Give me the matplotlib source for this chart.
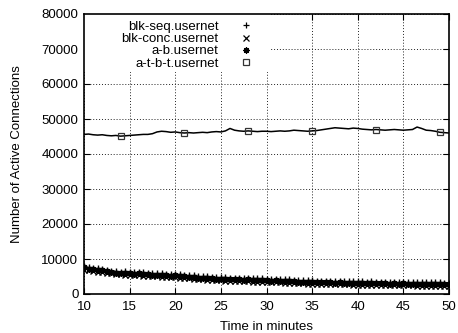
import numpy as np
import matplotlib
matplotlib.use("Agg")
import matplotlib.pyplot as plt
from matplotlib.patches import Rectangle
from matplotlib.lines import Line2D

plt.rcParams['font.family'] = ['Liberation Sans', 'DejaVu Sans']

# time axis (minutes), one sample every half minute
minutes = np.arange(10.0, 50.5, 0.5)

blk_seq = [7900, 7700, 7400, 7300, 7100, 7000, 6700, 6600, 6400, 6500,
           6300, 6350, 6200, 6150, 6100, 6000, 5950, 5900, 5800, 5750,
           5700, 5600, 5450, 5400, 5300, 5200, 5100, 5050, 4950, 4900,
           4800, 4800, 4700, 4650, 4600, 4650, 4550, 4500, 4450, 4500,
           4400, 4350, 4300, 4250, 4200, 4150, 4100, 4050, 3950, 3950,
           3900, 3850, 3850, 3800, 3750, 3750, 3700, 3700, 3650, 3650,
           3600, 3650, 3550, 3600, 3550, 3500, 3550, 3450, 3500, 3450,
           3400, 3450, 3400, 3350, 3400, 3300, 3350, 3300, 3300, 3250,
           3250]

blk_conc = [7000, 6800, 6600, 6400, 6300, 6100, 5900, 5700, 5600, 5500,
            5500, 5400, 5350, 5250, 5200, 5150, 5100, 5000, 4950, 4850,
            4800, 4700, 4600, 4450, 4350, 4250, 4150, 4100, 4000, 3950,
            3900, 3850, 3800, 3750, 3700, 3650, 3600, 3550, 3550, 3500,
            3450, 3400, 3350, 3300, 3250, 3200, 3150, 3100, 3050, 3000,
            2950, 2950, 2900, 2850, 2850, 2800, 2800, 2750, 2750, 2700,
            2700, 2650, 2650, 2600, 2600, 2600, 2550, 2550, 2500, 2500,
            2500, 2450, 2450, 2400, 2400, 2400, 2350, 2350, 2300, 2300,
            2300]

a_b = [7600, 7150, 7050, 6800, 6750, 6500, 6350, 6050, 6100, 5950,
       5950, 5750, 5900, 5650, 5700, 5550, 5550, 5400, 5450, 5250,
       5300, 5050, 5050, 4850, 4850, 4600, 4650, 4450, 4500, 4350,
       4400, 4250, 4300, 4150, 4200, 4050, 4150, 4000, 4050, 3950,
       4000, 3850, 3900, 3750, 3750, 3600, 3650, 3500, 3550, 3400,
       3450, 3350, 3400, 3300, 3350, 3250, 3300, 3200, 3250, 3150,
       3250, 3100, 3200, 3100, 3150, 3050, 3150, 3000, 3100, 2950,
       3050, 2950, 3000, 2900, 2950, 2850, 2950, 2800, 2900, 2750,
       2850]

a_t_b_t = [45600, 45700, 45500, 45400, 45500, 45300, 45200, 45300, 45100, 45200,
           45300, 45400, 45500, 45600, 45600, 45800, 46300, 46500, 46400, 46200,
           46300, 46100, 46000, 46100, 46000, 46100, 46200, 46100, 46300, 46400,
           46300, 46600, 47300, 46800, 46600, 46500, 46600, 46500, 46400, 46500,
           46500, 46400, 46500, 46600, 46500, 46600, 46800, 46700, 46600, 46500,
           46600, 46700, 46900, 47100, 47300, 47500, 47400, 47300, 47200, 47400,
           47300, 47100, 47000, 46900, 47000, 46900, 46800, 46900, 47000, 46900,
           46800, 46900, 47000, 47700, 47300, 46800, 46700, 46500, 46200, 46100,
           46000]

labels = ["blk-seq.usernet", "blk-conc.usernet", "a-b.usernet", "a-t-b-t.usernet"]
x_ticks = [10, 15, 20, 25, 30, 35, 40, 45, 50]
y_ticks = [0, 10000, 20000, 30000, 40000, 50000, 60000, 70000, 80000]

fig = plt.figure(figsize=(4.58, 3.33), dpi=100)
ax = fig.add_axes([84/458, 39/333, 365/458, 280/333])

fs = 9.5
ms = 4.4
ax.plot(minutes, blk_seq, linestyle='none', marker='+', color='black', ms=ms, mew=1.0, zorder=3)
ax.plot(minutes, blk_conc, linestyle='none', marker='x', color='black', ms=ms*0.85, mew=1.0, zorder=3)
ax.plot(minutes, a_b, linestyle='none', marker=(8, 2, 0), color='black', ms=ms, mew=1.0, zorder=3)
mark_idx = [int(round((m - 10) / 0.5)) for m in [14, 21, 28, 35, 42, 49]]
ax.plot(minutes, a_t_b_t, linestyle='-', lw=1.1, color='black', marker='s', ms=4.2,
        mfc='none', mec='#333333', mew=0.9, markevery=mark_idx, zorder=3)

ax.set_xlim(10, 50)
ax.set_ylim(0, 80000)
ax.set_xticks(x_ticks)
ax.set_yticks(y_ticks)
ax.tick_params(direction='in', length=4.5, width=0.8, top=True, right=True,
               labelsize=fs, pad=4, colors='black')
ax.tick_params(axis='x', pad=5)
for s in ax.spines.values():
    s.set_linewidth(1.2)

ax.set_axisbelow(True)
ax.grid(True, color='#222222', linestyle=(0, (1, 2)), linewidth=0.7)

# white key area hiding the grid
ax.add_patch(Rectangle((0, 0.793), 0.5096, 0.207, transform=ax.transAxes,
                       facecolor='white', edgecolor='none', zorder=1))

ax.set_xlabel("Time in minutes", fontsize=fs, labelpad=6)
ax.set_ylabel("Number of Active Connections", fontsize=fs, labelpad=13)

handles = [
    Line2D([], [], ls='none', marker='+', color='black', ms=ms, mew=0.9),
    Line2D([], [], ls='none', marker='x', color='black', ms=ms*0.85, mew=0.9),
    Line2D([], [], ls='none', marker=(8, 2, 0), color='black', ms=ms, mew=0.9),
    Line2D([], [], ls='none', marker='s', ms=4.2, mfc='none', mec='#333333', mew=0.9),
]
leg = ax.legend(handles, labels, loc='upper right', bbox_to_anchor=(0.463, 0.976), frameon=False,
                markerfirst=False, fontsize=fs, handlelength=1.0, handletextpad=1.6,
                borderpad=0, borderaxespad=0, labelspacing=0.0)

fig.savefig("out.png", dpi=100)
